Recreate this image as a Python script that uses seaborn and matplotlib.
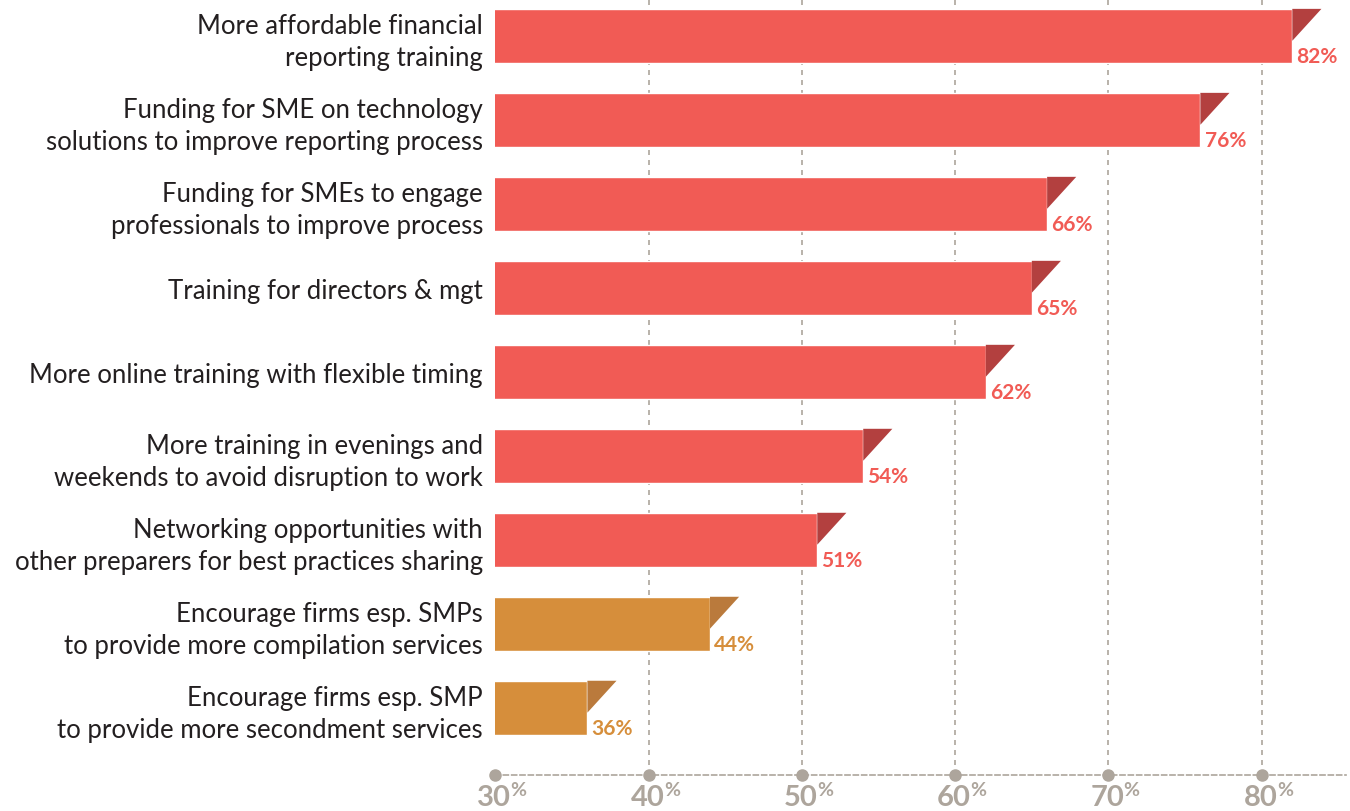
import matplotlib
matplotlib.use("Agg")
import matplotlib.pyplot as plt
import seaborn as sns
import pandas as pd

# dados
categories = [
    "More affordable financial\nreporting training",
    "Funding for SME on technology\nsolutions to improve reporting process",
    "Funding for SMEs to engage\nprofessionals to improve process",
    "Training for directors & mgt",
    "More online training with flexible timing",
    "More training in evenings and\nweekends to avoid disruption to work",
    "Networking opportunities with\nother preparers for best practices sharing",
    "Encourage firms esp. SMPs\nto provide more compilation services",
    "Encourage firms esp. SMP\nto provide more secondment services",
]
values = [82, 76, 66, 65, 62, 54, 51, 44, 36]
groups = ["preparer"] * 7 + ["firm"] * 2
tick_values = [30, 40, 50, 60, 70, 80]

bar_colors = {"preparer": "#F15B55", "firm": "#D68E3B"}
fold_colors = {"preparer": "#B3403F", "firm": "#BA7A3C"}
axis_grey = "#ADA59C"

df = pd.DataFrame({"Category": categories, "Value": values, "Group": groups})

sns.set_style("white")
plt.rcParams["font.family"] = ["Lato", "DejaVu Sans"]

fig = plt.figure(figsize=(13.5, 8.12), dpi=100)
ax = fig.add_axes([0.367, 0.0443, 0.63, 0.9557])

sns.barplot(data=df, y="Category", x="Value", hue="Group", palette=bar_colors,
            orient="h", width=0.645, dodge=False, legend=False, saturation=1,
            ax=ax, zorder=3)

ax.set_xlim(30, 85.5)
ax.set_ylim(8.80, -0.44)

# grade vertical tracejada
for t in tick_values[1:]:
    ax.axvline(t, color=axis_grey, lw=1.2, ls=(0, (3, 3)), zorder=1)

# dobra escura na ponta das barras + rótulos de valor
for i, (v, g) in enumerate(zip(values, groups)):
    top = i - 0.3225
    ax.fill([v, v + 1.9, v], [top, top, top + 0.38], color=fold_colors[g],
            lw=0, zorder=4)
    ax.annotate(f"{v}%", xy=(v, i + 0.24), xytext=(3, 0), textcoords="offset points",
                ha="left", va="center", fontsize=15, fontweight="bold",
                color=bar_colors[g])

# eixo x pontilhado com bolinhas
for s in ["top", "right", "left"]:
    ax.spines[s].set_visible(False)
ax.spines["bottom"].set_color(axis_grey)
ax.spines["bottom"].set_linestyle((0, (3, 2)))
ax.spines["bottom"].set_linewidth(1.2)
ax.plot(tick_values, [8.80] * len(tick_values), "o", color=axis_grey, ms=8,
        clip_on=False, zorder=5)

ax.set_xticks(tick_values)
ax.set_xticklabels([])
ax.tick_params(axis="x", length=0)
for t in tick_values:
    ax.annotate(str(t), xy=(t, 0), xycoords=("data", "figure pixels"),
                xytext=(-1, 0.5), textcoords="offset points", ha="center", va="bottom",
                fontsize=21, fontweight="bold", color=axis_grey)
    ax.annotate("%", xy=(t, 0), xycoords=("data", "axes fraction"),
                xytext=(11, -4), textcoords="offset points", ha="left", va="top",
                fontsize=14, fontweight="bold", color=axis_grey)

ax.set_xlabel("")
ax.set_ylabel("")
ax.tick_params(axis="y", length=0, pad=9)
for lbl in ax.get_yticklabels():
    lbl.set_fontsize(18.5)
    lbl.set_color("#231F20")
    lbl.set_multialignment("right")
    lbl.set_linespacing(1.35)

fig.savefig("out.png", dpi=100)
